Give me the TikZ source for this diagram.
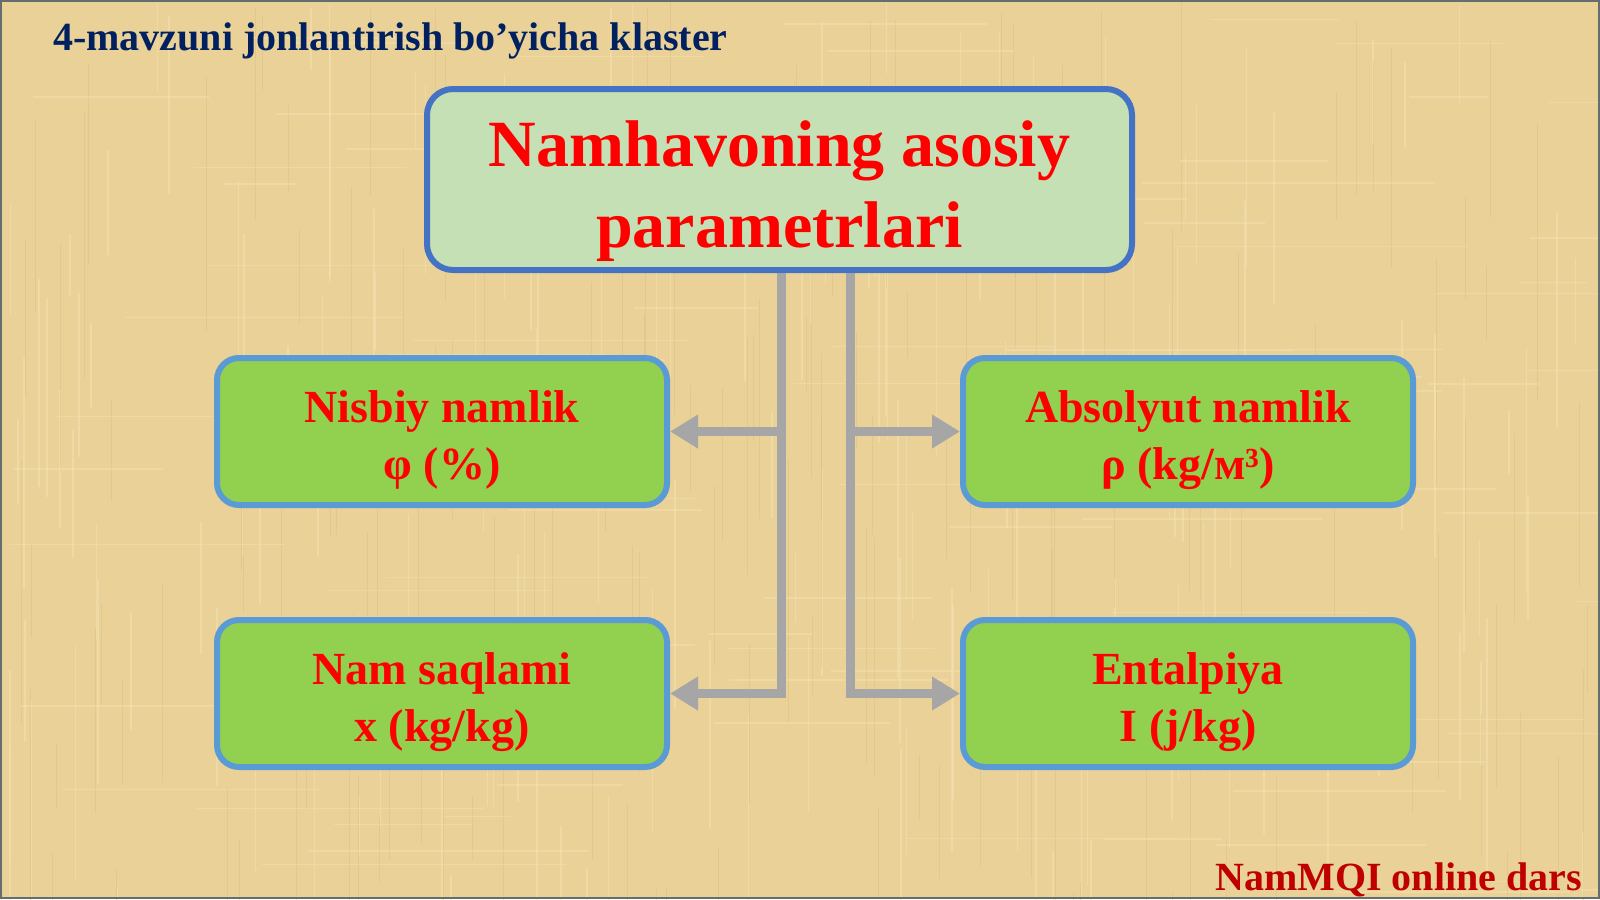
\documentclass[tikz,border=0pt]{standalone}
\usepackage{fontspec}
\setmainfont{Liberation Serif}
\usetikzlibrary{arrows.meta}
\definecolor{bgpap}{RGB}{234,209,152}
\definecolor{paplight}{RGB}{246,228,180}
\definecolor{papdark}{RGB}{214,186,124}
\definecolor{navy}{RGB}{0,32,96}
\definecolor{topfill}{RGB}{197,224,180}
\definecolor{topline}{RGB}{68,114,196}
\definecolor{boxfill}{RGB}{146,208,80}
\definecolor{boxline}{RGB}{91,155,213}
\definecolor{conn}{RGB}{166,166,166}
\definecolor{darkred}{RGB}{192,0,0}
\definecolor{frame}{RGB}{100,110,112}
\tikzset{
  topbox/.style={draw=topline, fill=topfill, line width=6pt, rounded corners=26pt,
    minimum width=705pt, minimum height=181pt},
  toptext/.style={align=center, text=red, inner sep=0pt,
    font=\fontsize{66}{81}\selectfont\bfseries},
  parbox/.style={draw=boxline, fill=boxfill, line width=6pt, rounded corners=22pt,
    minimum width=450pt, minimum height=147pt},
  partext/.style={align=center, text=red, inner sep=0pt,
    font=\fontsize{46}{57}\selectfont\bfseries},
  connector/.style={draw=conn, line width=9pt, line join=miter},
  arrowed/.style={connector, -{Triangle[length=28pt,width=32pt]}}
}
\begin{document}
\begin{tikzpicture}[x=1pt,y=-1pt]
\fill[bgpap] (0,0) rectangle (1600,899);
\useasboundingbox (0,0) rectangle (1600,899);
% papyrus-like texture
\pgfmathsetseed{11}
\foreach \i in {1,...,160}{
  \pgfmathsetmacro{\xx}{rnd*1600}
  \pgfmathsetmacro{\yy}{rnd*899}
  \pgfmathsetmacro{\ll}{60+rnd*220}
  \draw[paplight, line width=1.5pt, opacity=0.45] (\xx,\yy) -- ++(0,\ll);
}
\foreach \i in {1,...,160}{
  \pgfmathsetmacro{\xx}{rnd*1600}
  \pgfmathsetmacro{\yy}{rnd*899}
  \pgfmathsetmacro{\ll}{60+rnd*220}
  \draw[papdark, line width=1pt, opacity=0.35] (\xx,\yy) -- ++(0,\ll);
}
\foreach \i in {1,...,90}{
  \pgfmathsetmacro{\xx}{rnd*1600}
  \pgfmathsetmacro{\yy}{rnd*899}
  \pgfmathsetmacro{\ll}{60+rnd*250}
  \draw[paplight, line width=1.5pt, opacity=0.4] (\xx,\yy) -- ++(\ll,0);
}
\draw[frame, line width=2pt] (1,1) rectangle (1599,898);

\node[anchor=base west, inner sep=0pt, text=navy, font=\fontsize{40}{44}\selectfont\bfseries] (title) at (53,51) {4-mavzuni jonlantirish bo’yicha klaster};

\node[topbox] (top) at (779.5,179.5) {};
\node[toptext] (toplabel) at (779.5,191) {Namhavoning asosiy\\parametrlari};

\node[parbox] (ul) at (442,431.5) {};
\node[parbox] (ur) at (1188,431.5) {};
\node[parbox] (ll) at (442,693.5) {};
\node[parbox] (lr) at (1188,693.5) {};
\node[partext] (ultext) at (442,440) {Nisbiy namlik\\φ (\%)};
\node[partext] (urtext) at (1188,440) {Absolyut namlik\\ρ (kg/м³)};
\node[partext] (lltext) at (442,702) {Nam saqlami\\x (kg/kg)};
\node[partext] (lrtext) at (1188,702) {Entalpiya\\I (j/kg)};

\coordinate (lt) at (781,273);
\coordinate (rt) at (850,273);
\coordinate (lm) at (781,431.5);
\coordinate (rm) at (850,431.5);
\coordinate (lb) at (781,693.5);
\coordinate (rb) at (850,693.5);

\draw[arrowed] (lt) -- (lb) -- (ll.east);
\draw[arrowed] (rt) -- (rb) -- (lr.west);
\draw[arrowed] (lm) -- (ul.east);
\draw[arrowed] (rm) -- (ur.west);

\node[anchor=base east, inner sep=0pt, text=darkred, font=\fontsize{40}{44}\selectfont\bfseries] (foot) at (1582,890) {NamMQI online dars};
\end{tikzpicture}
\end{document}
